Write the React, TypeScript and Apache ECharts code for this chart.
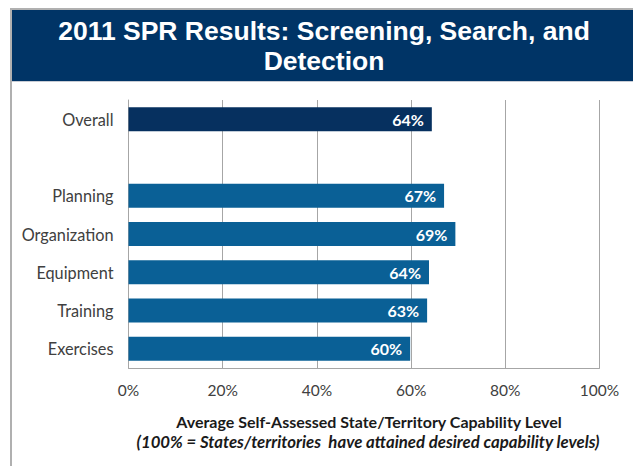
import React, { useEffect, useRef } from "react";
import * as echarts from "echarts";

const categories = ["Overall", "", "Planning", "Organization", "Equipment", "Training", "Exercises"];
const values: (number | null)[] = [64.4, null, 67.0, 69.4, 63.8, 63.4, 59.8];
const xTicks = [0, 20, 40, 60, 80, 100];
const titleLines = ["2011 SPR Results: Screening, Search, and", "Detection"];
const axisTitle = "Average Self-Assessed State/Territory Capability Level";
const axisSubtitle = "(100% = States/territories  have attained desired capability levels)";

export default function App() {
  const ref = useRef<HTMLDivElement>(null);
  useEffect(() => {
    if (!ref.current) return;
    const chart = echarts.init(ref.current, undefined, { renderer: "svg" });
    chart.setOption({
      animation: false,
      backgroundColor: "#ffffff",
      grid: { left: 128.5, right: 33.5, top: 100, bottom: 98, containLabel: false },
      xAxis: {
        type: "value",
        min: xTicks[0],
        max: xTicks[xTicks.length - 1],
        interval: 20,
        axisLine: { show: true, lineStyle: { color: "#a6a6a6", width: 1 } },
        axisTick: { show: false },
        splitLine: { show: true, lineStyle: { color: "#a6a6a6", width: 1 } },
        axisLabel: {
          formatter: "{value}%",
          color: "#404040",
          fontFamily: "Lato",
          fontSize: 15.5,
          margin: 14,
        },
      },
      yAxis: {
        type: "category",
        data: categories,
        inverse: true,
        axisLine: { show: true, lineStyle: { color: "#a6a6a6", width: 1 } },
        axisTick: { show: false },
        axisLabel: { color: "#404040", fontFamily: "Lato", fontSize: 16.3, margin: 15 },
      },
      series: [
        {
          type: "bar",
          barWidth: 24,
          data: values.map((v, i) => ({
            value: v,
            itemStyle: { color: i === 0 ? "#06305f" : "#0a6096" },
          })),
          label: {
            show: true,
            position: "insideRight",
            distance: 8,
            formatter: (p: any) => (p.value == null ? "" : Math.round(p.value) + "%"),
            color: "#ffffff",
            fontFamily: "Lato",
            fontWeight: "bold",
            fontSize: 16,
          },
        },
      ],
      graphic: [
        { type: "rect", shape: { x: 10, y: 8, width: 623, height: 2 }, style: { fill: "#b0b0b0" } },
        { type: "rect", shape: { x: 10, y: 8, width: 2, height: 458 }, style: { fill: "#b0b0b0" } },
        { type: "rect", shape: { x: 12, y: 10, width: 621, height: 71 }, style: { fill: "#003466" } },
        { type: "rect", shape: { x: 12, y: 81, width: 621, height: 1 }, style: { fill: "#c8ccd4" } },
        {
          type: "text",
          x: 324,
          y: 31,
          style: {
            text: titleLines[0],
            fill: "#ffffff",
            font: "bold 26.5px 'Liberation Sans', Arial, sans-serif",
            textAlign: "center",
            textVerticalAlign: "middle",
          },
        },
        {
          type: "text",
          x: 324,
          y: 61,
          style: {
            text: titleLines[1],
            fill: "#ffffff",
            font: "bold 26.5px 'Liberation Sans', Arial, sans-serif",
            textAlign: "center",
            textVerticalAlign: "middle",
          },
        },
        {
          type: "text",
          x: 369,
          y: 421,
          style: {
            text: axisTitle,
            fill: "#1a1a1a",
            font: "bold 16px Lato, sans-serif",
            textAlign: "center",
            textVerticalAlign: "middle",
          },
        },
        {
          type: "text",
          x: 368,
          y: 441,
          style: {
            text: axisSubtitle,
            fill: "#1a1a1a",
            font: "italic bold 16.8px Lato, sans-serif",
            textAlign: "center",
            textVerticalAlign: "middle",
          },
        },
      ],
    });
    return () => chart.dispose();
  }, []);
  return (
    <div
      ref={ref}
      style={{ position: "absolute", left: 0, top: 0, width: 633, height: 466 }}
    />
  );
}
